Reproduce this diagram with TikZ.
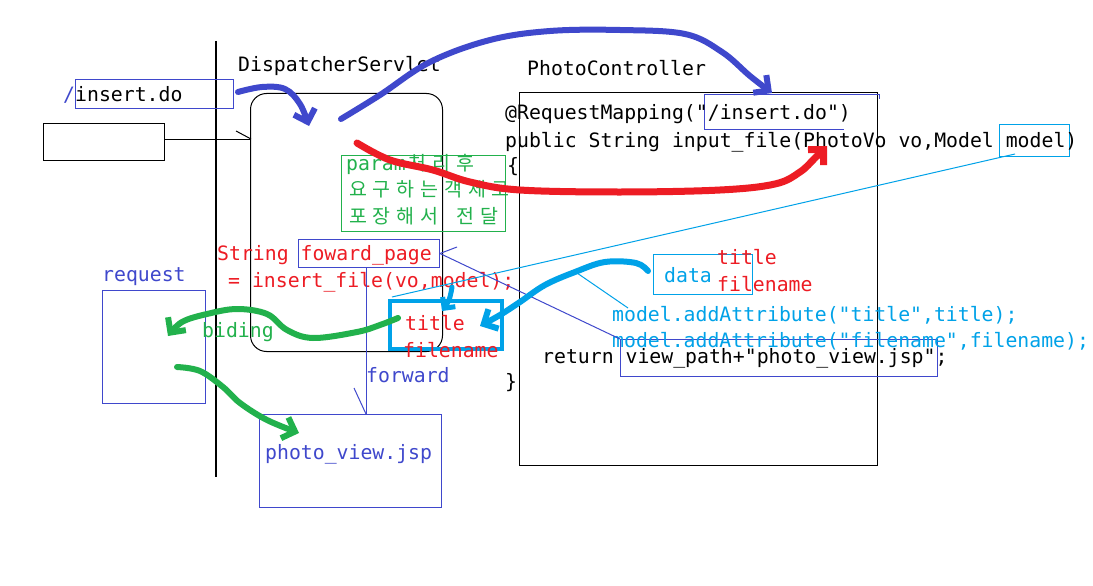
\documentclass[tikz,border=0pt]{standalone}
\usepackage{fontspec}
\usetikzlibrary{arrows.meta}
\newfontfamily\codefont{DejaVu Sans Mono}
\newfontfamily\cjkfont{Noto Sans CJK KR}
\definecolor{pblue}{RGB}{63,72,204}
\definecolor{pcyan}{RGB}{0,162,232}
\definecolor{pred}{RGB}{237,28,36}
\definecolor{pgreen}{RGB}{34,177,76}
\newcommand\kc[1]{\makebox[23.8pt][c]{\cjkfont\fontsize{19.5}{24}\selectfont #1}}
\tikzset{
  txt/.style={anchor=base west, inner sep=0pt, font=\codefont\fontsize{19.8}{24}\selectfont},
  thinl/.style={line width=1pt},
  boxn/.style={draw, anchor=north west, inner sep=0pt, line width=1pt},
  pen/.style={line width=6pt, line cap=round, line join=round},
  barb/.style={-{Straight Barb[length=11pt,width=22pt]}},
  sbarb/.style={-{Straight Barb[length=8pt,width=16pt]}}
}
\begin{document}
\begin{tikzpicture}[x=1pt,y=-1pt]
\useasboundingbox (0,0) rectangle (1093,586);
\fill[white] (0,0) rectangle (1093,586);

% frames
\draw[line width=1.2pt] (216,41) -- (216,477);
\node[boxn, minimum width=121pt, minimum height=37pt] (blank) at (43,123) {};
\node[boxn, rounded corners=16pt, minimum width=192pt, minimum height=258pt] (ds) at (250,93) {};
\node[boxn, minimum width=358pt, minimum height=373pt] (pc) at (519,92) {};
\node[boxn, draw=pblue, minimum width=158pt, minimum height=29pt] (ins) at (75,79) {};
\node[boxn, draw=pblue, minimum width=103pt, minimum height=113pt] (req) at (102,290) {};
\node[boxn, draw=pblue, minimum width=182pt, minimum height=93pt] (pv) at (259,414) {};
\node[boxn, draw=pgreen, minimum width=164pt, minimum height=76pt] (gbox) at (341,155) {};
\node[boxn, draw=pblue, minimum width=141pt, minimum height=28pt] (fp) at (298,239) {};
\node[boxn, draw=pblue, minimum width=317pt, minimum height=37pt] (vp) at (620,339) {};
\node[boxn, draw=pcyan, minimum width=70pt, minimum height=32pt] (mdl) at (999,124) {};
\node[boxn, draw=pcyan, minimum width=99pt, minimum height=40pt] (dbox) at (653,254) {};
\node[boxn, draw=pcyan, line width=3.5pt, minimum width=112pt, minimum height=48pt] (tbox) at (388,299) {};
% open blue box around /insert.do in the mapping
\draw[pblue, thinl] (879,99) -- (879,95) -- (704,95) -- (704,129) -- (844,129);

% texts
\node[txt] (t1) at (238,71) {DispatcherServlet};
\node[txt] (t2) at (527,76) {PhotoController};
\node[txt, text=pblue] (slash) at (63,101) {/};
\node[txt] (t3) at (75,101) {insert.do};
\node[txt] (c1) at (505,120) {@RequestMapping("/insert.do")};
\node[txt] (c2) at (505,147) {public String input\_file(PhotoVo vo,Model model)};
\node[txt] (c3) at (507,172) {\{};
\node[txt] (c4) at (542,363) {return view\_path+"photo\_view.jsp";};
\node[txt] (c5) at (505,388) {\}};
\node[txt, text=pgreen] (k1) at (346,170) {param\kc{처}\kc{리}\kc{후}};
\node[txt, text=pgreen] (k2) at (346,196) {\kc{요}\kc{구}\kc{하}\kc{는}\kc{객}\kc{체}\kc{로}};
\node[txt, text=pgreen] (k3) at (346,223) {\kc{포}\kc{장}\kc{해}\kc{서} \kc{전}\kc{달}};
\node[txt, text=pred] (s1) at (217,260) {String foward\_page};
\node[txt, text=pred] (s2) at (228,287) {= insert\_file(vo,model);};
\node[txt, text=pblue] (rq) at (102,281) {request};
\node[txt, text=pgreen] (bd) at (202,337) {biding};
\node[txt, text=pred] (ti) at (405,330) {title};
\node[txt, text=pred] (fn) at (403,357) {filename};
\node[txt, text=pblue] (fw) at (366,382) {forward};
\node[txt, text=pblue] (pvt) at (265,459) {photo\_view.jsp};
\node[txt, text=pcyan] (dt) at (664,282) {data};
\node[txt, text=pred] (dti) at (717,264) {title};
\node[txt, text=pred] (dfn) at (717,291) {filename};
\node[txt, text=pcyan] (m1) at (612,321) {model.addAttribute("title",title);};
\node[txt, text=pcyan] (m2) at (612,347) {model.addAttribute("filename",filename);};

% thin connectors
\coordinate (l1s) at (164,139);
\coordinate (l1e) at (251,139);
\draw[thinl] (l1s) -- (l1e);
\draw[thinl] (236,131) -- (l1e);
\draw[pblue, thinl] (fp.east) -- (457,247);
\draw[pblue, thinl] (fp.east) -- (vp.north west);
\coordinate (fwS) at (366,267);
\coordinate (fwE) at (366,414);
\draw[pblue, thinl] (fwS) -- (fwE);
\draw[pblue, thinl] (354,388) -- (fwE);
\coordinate (mdS) at (1015,154);
\coordinate (mdE) at (392,297);
\draw[pcyan, thinl] (mdS) -- (mdE);
\coordinate (cyS) at (577,273);
\coordinate (cyE) at (628,308);
\draw[pcyan, thinl] (cyS) -- (cyE);

% hand-drawn arrows
\draw[pen, pblue, barb] plot[smooth, tension=0.6] coordinates {(238,92) (262,87) (285,89) (300,104) (309,126)};
\draw[pen, pblue, barb] plot[smooth, tension=0.6] coordinates {(341,119) (380,95) (430,62) (490,40) (550,31) (620,30) (685,34) (722,52) (750,76) (772,93)};
\draw[pen, pred, line width=7pt, barb] plot[smooth, tension=0.6] coordinates {(357,143) (390,160) (433,170) (470,182) (520,190) (620,192) (720,190) (775,184) (800,172) (815,158) (827,146)};
\draw[pen, pgreen, barb] plot[smooth, tension=0.6] coordinates {(398,318) (380,325) (357,332) (313,338) (287,330) (267,314) (237,309) (207,314) (182,322) (168,336)};
\draw[pen, pgreen, barb] plot[smooth, tension=0.6] coordinates {(177,367) (200,371) (223,387) (240,403) (267,420) (299,433)};
\draw[pen, pcyan, barb] plot[smooth, tension=0.6] coordinates {(648,271) (636,263) (605,262) (575,272) (545,285) (520,302) (500,315) (480,326)};
\draw[pen, pcyan, line width=5pt, sbarb] plot[smooth, tension=0.6] coordinates {(452,287) (449,300) (442,311)};
\end{tikzpicture}
\end{document}
